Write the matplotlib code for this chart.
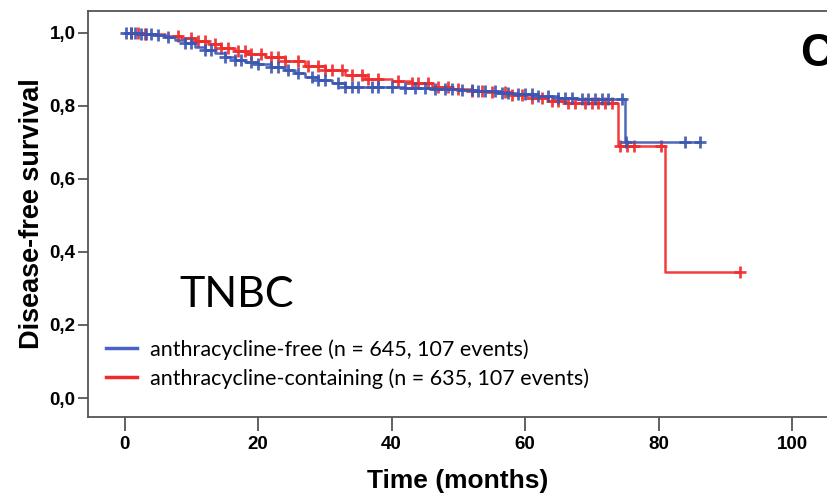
import numpy as np
from matplotlib import pyplot as plt

# step times (months) and survival after each event
FREE_TIMES = [2.0, 4.5, 6.0, 7.5, 9.0, 10.5, 12.0, 13.5, 15.0, 16.5, 18.0, 20.0, 22.0, 24.0, 25.5,
              27.0, 29.0, 31.0, 33.0, 35.0, 42.0, 46.0, 50.0, 53.0, 56.0, 59.0, 62.0, 65.0, 68.0, 75.0]
FREE_SURV  = [0.998, 0.994, 0.988, 0.980, 0.972, 0.962, 0.952, 0.944, 0.935, 0.927, 0.920, 0.914, 0.907, 0.898, 0.890,
              0.880, 0.871, 0.862, 0.853, 0.851, 0.849, 0.846, 0.843, 0.840, 0.836, 0.832, 0.827, 0.823, 0.819, 0.700]

CONT_TIMES = [3.0, 6.0, 8.5, 10.5, 12.5, 14.5, 16.5, 18.5, 21.0, 24.0, 27.0, 30.0, 33.0, 36.0, 40.0,
              43.0, 46.0, 49.0, 52.0, 55.0, 58.0, 61.0, 63.5, 66.0, 74.0, 81.0]
CONT_SURV  = [0.997, 0.992, 0.985, 0.979, 0.969, 0.958, 0.950, 0.943, 0.934, 0.924, 0.910, 0.898, 0.886, 0.874, 0.868,
              0.862, 0.853, 0.846, 0.842, 0.837, 0.830, 0.822, 0.814, 0.808, 0.690, 0.345]

# censored observations (months)
FREE_CENSOR = [0.2, 0.9, 1.6, 2.4, 3.2, 4.0, 5.0, 6.5, 9.0, 10.0, 12.0, 13.0, 15.0, 16.5, 17.5, 19.0, 20.0,
               22.0, 23.0, 24.5, 26.0, 28.0, 29.0, 30.0, 32.0, 33.0, 34.0, 35.0, 37.0, 38.0, 40.0, 42.0, 43.5,
               45.0, 46.5, 48.0, 49.0, 50.5, 52.0, 53.0, 54.0, 55.5, 56.5, 57.5, 59.0, 60.0, 61.0, 62.0, 63.5,
               65.0, 66.0, 67.0, 68.5, 69.5, 70.5, 71.5, 72.5, 74.6, 75.2, 84.0, 86.2]
CONT_CENSOR = [1.0, 2.0, 3.0, 8.0, 10.0, 11.0, 12.0, 13.5, 14.5, 15.5, 17.0, 18.0, 19.0, 20.5, 22.0, 23.0,
               24.0, 26.0, 27.5, 29.0, 30.0, 31.0, 32.5, 34.0, 35.5, 36.5, 38.0, 41.0, 43.0, 44.0, 45.5, 47.0,
               48.5, 50.0, 52.0, 53.5, 55.0, 57.0, 58.0, 59.5, 61.0, 62.5, 64.0, 65.0, 66.5, 67.5, 69.0, 70.0,
               71.0, 72.0, 73.0, 74.2, 75.3, 76.3, 80.3, 92.2]

LABELS = ["anthracycline-free (n = 645, 107 events)",
          "anthracycline-containing (n = 635, 107 events)"]
COLORS = ["#3b56b2", "#f02a2a"]

X_TICKS = [0, 20, 40, 60, 80, 100]
Y_TICKS = [0.0, 0.2, 0.4, 0.6, 0.8, 1.0]

TICK_FONT = ["Liberation Sans Narrow", "Liberation Sans"]
TEXT_FONT = ["Lato", "DejaVu Sans"]


def km_curve(times, surv, censor):
    # build step coordinates and the survival at each censor time
    t = np.array([0.0] + list(times) + [max(censor)])
    s = np.array([1.0] + list(surv) + [surv[-1]])
    idx = np.searchsorted(t[:-1], censor, side="right") - 1
    return t, s, np.array(censor), s[idx]


def main():
    fig = plt.figure(figsize=(8.28, 4.93), dpi=100)
    ax = fig.add_axes([88 / 828, 1 - 417 / 493, 1 - 88 / 828, (417 - 11) / 493])

    curves = [km_curve(CONT_TIMES, CONT_SURV, CONT_CENSOR),
              km_curve(FREE_TIMES, FREE_SURV, FREE_CENSOR)]
    colors = [COLORS[1], COLORS[0]]

    # red drawn first, blue on top
    for (t, s, ct, cs), c in zip(curves, colors):
        ax.step(t, s, where="post", color=c, lw=1.8, alpha=0.9)
        ax.plot(ct, cs, ls="none", marker="+", ms=9, mew=2, color=c, alpha=0.9)

    ax.set_xlim(-5.5, 105.4)
    ax.set_ylim(-0.052, 1.06)
    ax.set_xticks(X_TICKS)
    ax.set_yticks(Y_TICKS)
    ax.set_yticklabels([("%.1f" % v).replace(".", ",") for v in Y_TICKS])

    for name in ["left", "bottom", "top"]:
        ax.spines[name].set_color("#555555")
        ax.spines[name].set_linewidth(1.3)
    ax.spines["right"].set_visible(False)
    ax.tick_params(axis="x", length=10, width=1.3, color="#555555", pad=4)
    ax.tick_params(axis="y", length=7, width=1.3, color="#555555", pad=2)
    for lab in ax.get_xticklabels() + ax.get_yticklabels():
        lab.set_family(TICK_FONT)
        lab.set_fontsize(13.5)
        lab.set_fontweight("bold")

    ax.set_xlabel("Time (months)", family=TICK_FONT, fontsize=19, fontweight="bold", labelpad=11)
    ax.set_ylabel("Disease-free survival", family="Liberation Sans", fontsize=19.5, fontweight="bold", labelpad=3.5)

    # legend without frame, lower left
    handles = [plt.Line2D([], [], color="#4a62c4", lw=2.5),
               plt.Line2D([], [], color=COLORS[1], lw=2.5)]
    ax.legend(handles, LABELS, loc="lower left", bbox_to_anchor=(0.0127, 0.048), frameon=False,
              prop={"family": TEXT_FONT, "size": 15.5}, handlelength=1.45, handletextpad=0.6,
              labelspacing=0.4, borderaxespad=0)

    ax.text(0.124, 0.271, "TNBC", transform=ax.transAxes, family=TEXT_FONT, fontsize=31, va="baseline")
    fig.text(800 / 828, 1 - 66 / 493, "C", family="Liberation Sans", fontsize=33, fontweight="bold")

    fig.savefig("out.png", dpi=100)
    plt.close()


if __name__ == "__main__":
    main()
